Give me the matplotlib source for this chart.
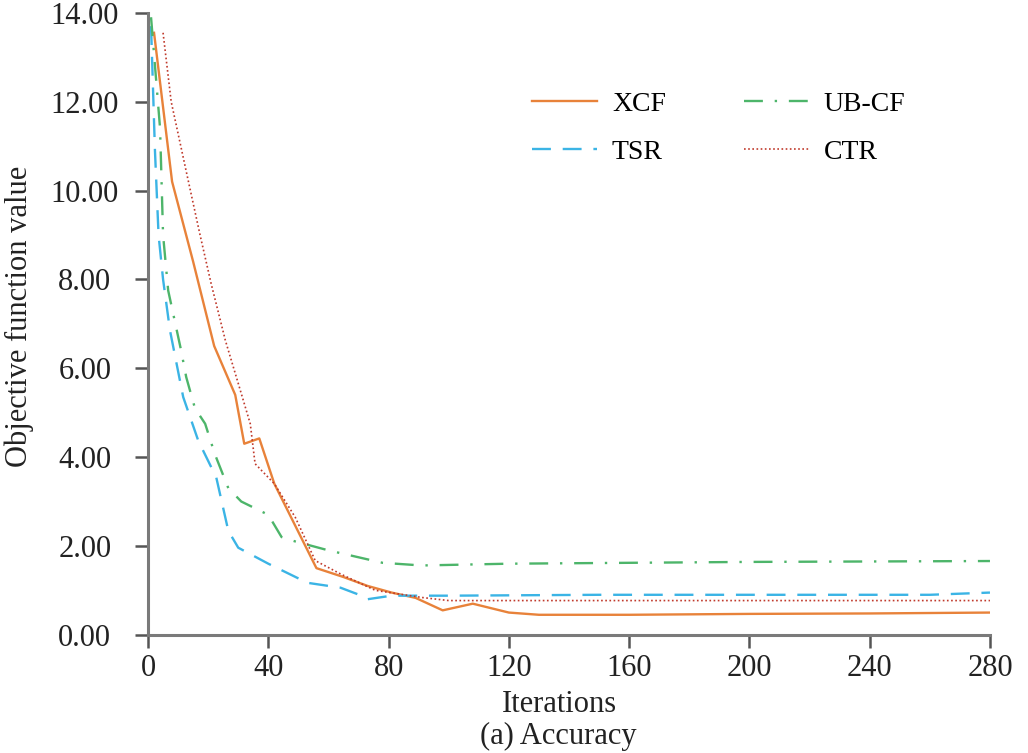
import matplotlib
matplotlib.use("Agg")
import matplotlib.pyplot as plt

plt.rcParams['font.family'] = ['Liberation Serif', 'DejaVu Serif']

# Iterations / objective values
xcf_x = [2, 8, 15, 22, 29, 32, 37, 42, 56, 65, 73, 81, 89, 98, 108, 120, 130, 160, 200, 240, 280]
xcf_y = [13.55, 10.2, 8.4, 6.5, 5.4, 4.3, 4.42, 3.4, 1.5, 1.3, 1.1, 0.95, 0.83, 0.55, 0.7, 0.5, 0.45, 0.45, 0.47, 0.48, 0.5]

tsr_x = [1, 2.3, 3.5, 5, 7.3, 11.7, 16.7, 22.7, 26.7, 30, 40, 53, 64, 71, 73, 81, 100, 150, 200, 260, 280]
tsr_y = [13.7, 10.9, 9.0, 8.0, 6.85, 5.35, 4.37, 3.54, 2.34, 1.96, 1.6, 1.17, 1.06, 0.88, 0.8, 0.88, 0.88, 0.9, 0.9, 0.9, 0.95]

ubcf_x = [1, 4, 5, 6.7, 11, 12.7, 15.6, 19, 22.2, 26.7, 31, 40, 44.4, 49, 60, 78, 91, 120, 160, 200, 240, 280]
ubcf_y = [13.9, 11.4, 9.0, 7.75, 6.4, 5.8, 5.1, 4.75, 4.07, 3.3, 3.0, 2.7, 2.2, 2.1, 1.9, 1.62, 1.56, 1.6, 1.62, 1.64, 1.65, 1.66]

ctr_x = [5, 7.7, 12.8, 17.3, 21, 25.7, 30.7, 34, 35.6, 42, 49, 55.6, 64, 75.6, 91, 100, 150, 200, 280]
ctr_y = [13.55, 12.0, 10.4, 9.0, 7.9, 6.63, 5.5, 4.75, 3.85, 3.4, 2.64, 1.67, 1.37, 1.0, 0.84, 0.77, 0.77, 0.77, 0.77]

x_ticks = list(range(0, 281, 40))
y_ticks = list(range(0, 15, 2))

fig = plt.figure(figsize=(10.28, 7.53), dpi=100)
ax = fig.add_axes([0.144, 0.157, 0.819, 0.826])

ax.plot(xcf_x, xcf_y, color='#E8823A', lw=1.7, label='XCF')
ax.plot(tsr_x, tsr_y, color='#3BB4E5', lw=1.7, linestyle=(0, (8, 5)), label='TSR')
ax.plot(ubcf_x, ubcf_y, color='#4DB56A', lw=1.7, linestyle=(0, (8, 5, 1, 5)), label='UB-CF')
ax.plot(ctr_x, ctr_y, color='#C0392B', lw=1.2, linestyle=(0, (1, 1.5)), label='CTR')

ax.set_xlim(0, 280)
ax.set_ylim(0, 14)
ax.set_xticks(x_ticks)
ax.set_yticks(y_ticks)
ax.set_yticklabels([f'{v:.2f}' for v in y_ticks], ha='center')

for side in ['top', 'right']:
    ax.spines[side].set_visible(False)
for side in ['left', 'bottom']:
    ax.spines[side].set_color('#7a7a7a')
    ax.spines[side].set_linewidth(2.2)
ax.tick_params(axis='both', colors='#555555', labelcolor='#222222', labelsize=22,
               width=1.8, length=9.5)
ax.tick_params(axis='y', pad=36)
ax.tick_params(axis='x', pad=4)

fig.text(19 / 1028, 0.58, 'Objective function value', rotation=90, ha='center', va='center',
         fontsize=22, color='#222222')
fig.text(0.544, 0.055, 'Iterations', ha='center', va='baseline', fontsize=22, color='#222222')
fig.text(0.543, 0.012, '(a) Accuracy', ha='center', va='baseline', fontsize=22, color='#222222')

ax.legend(ncol=2, frameon=False, fontsize=20, loc='upper left',
          bbox_to_anchor=(532 / 1028, 0.879), bbox_transform=fig.transFigure,
          borderpad=0, borderaxespad=0, handlelength=2.34, columnspacing=2.8,
          handletextpad=0.54, labelspacing=0.83)

fig.savefig('out.png', dpi=100)
